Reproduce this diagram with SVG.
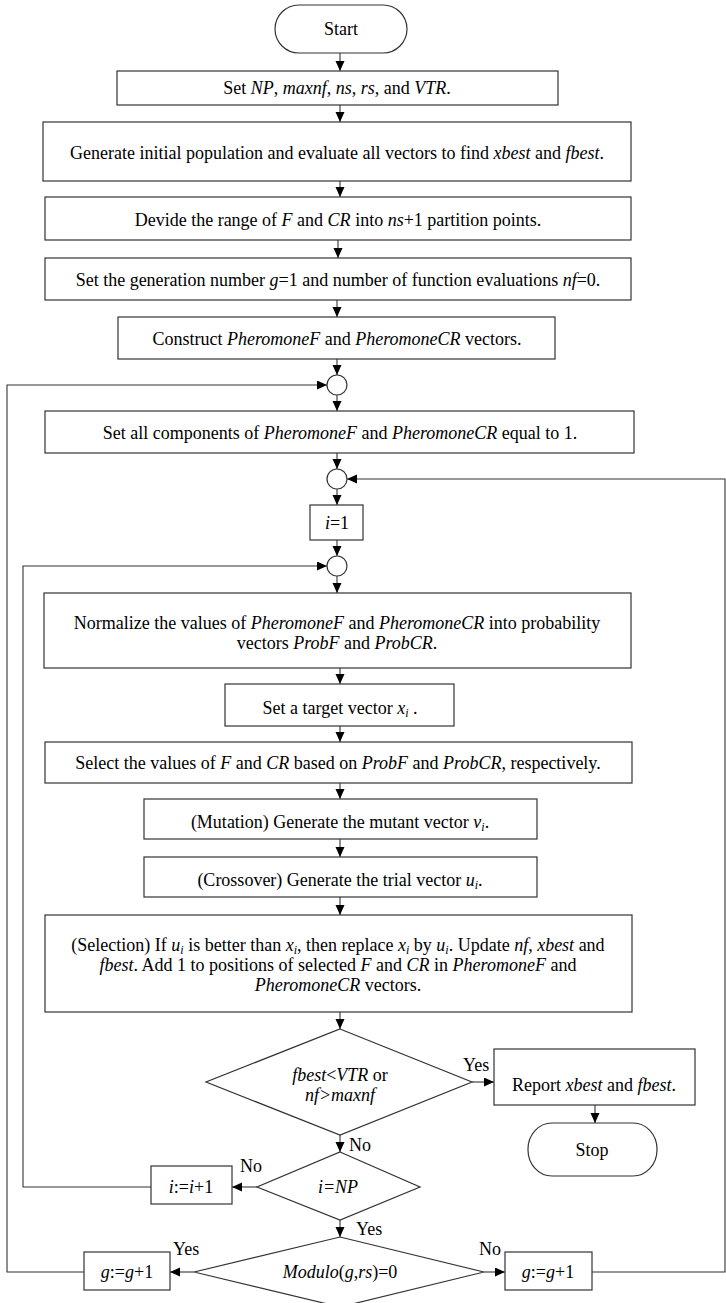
<svg xmlns="http://www.w3.org/2000/svg" width="726" height="1303" viewBox="0 0 726 1303">
<defs>
<marker id="ah" markerUnits="userSpaceOnUse" markerWidth="10" markerHeight="10" refX="10" refY="4.5" orient="auto">
<path d="M0,0 L10,4.5 L0,9 Z" fill="#000"/>
</marker>
<style>
.box{fill:#fff;stroke:#333;stroke-width:1.2}
.t{font-family:"Liberation Serif","Times New Roman",serif;font-size:18px;fill:#000;text-anchor:middle}
.l{font-family:"Liberation Serif","Times New Roman",serif;font-size:18px;fill:#000}
.i{font-style:italic}
.s{font-size:12px;font-style:italic}
.a{fill:none;stroke:#333;stroke-width:1.1;marker-end:url(#ah)}
</style>
</defs>
<rect width="726" height="1303" fill="#fff"/>
<g id="connectors">
<line class="a" x1="340" y1="53" x2="340" y2="71"/>
<line class="a" x1="340" y1="105" x2="340" y2="122"/>
<line class="a" x1="340" y1="181" x2="340" y2="197"/>
<line class="a" x1="338" y1="240" x2="338" y2="258"/>
<line class="a" x1="337" y1="300" x2="337" y2="317"/>
<line class="a" x1="337" y1="359" x2="337" y2="375"/>
<line class="a" x1="337" y1="395" x2="337" y2="411"/>
<line class="a" x1="337" y1="453" x2="337" y2="469"/>
<line class="a" x1="337" y1="489" x2="337" y2="505"/>
<line class="a" x1="337" y1="540" x2="337" y2="556"/>
<line class="a" x1="337" y1="576" x2="337" y2="593"/>
<line class="a" x1="340" y1="668" x2="340" y2="684"/>
<line class="a" x1="340" y1="726" x2="340" y2="742"/>
<line class="a" x1="340" y1="783" x2="340" y2="799"/>
<line class="a" x1="340" y1="839" x2="340" y2="857"/>
<line class="a" x1="340" y1="897" x2="340" y2="915"/>
<line class="a" x1="340" y1="1012" x2="340" y2="1029"/>
<line class="a" x1="472" y1="1082" x2="494" y2="1082"/>
<line class="a" x1="595" y1="1105" x2="595" y2="1123"/>
<line class="a" x1="340" y1="1135" x2="340" y2="1152"/>
<line class="a" x1="257" y1="1187" x2="232" y2="1187"/>
<polyline class="a" points="151,1187 23,1187 23,566 327,566"/>
<line class="a" x1="340" y1="1220" x2="340" y2="1237"/>
<line class="a" x1="194" y1="1272" x2="170" y2="1272"/>
<polyline class="a" points="84,1272 7,1272 7,385 327,385"/>
<line class="a" x1="484" y1="1272" x2="505" y2="1272"/>
<polyline class="a" points="592,1272 725,1272 725,479 347,479"/>
<text class="l" x="463" y="1071">Yes</text>
<text class="l" x="349" y="1151">No</text>
<text class="l" x="240" y="1172">No</text>
<text class="l" x="356" y="1235">Yes</text>
<text class="l" x="173" y="1255">Yes</text>
<text class="l" x="479" y="1255">No</text>
</g>
<g id="start">
<rect class="box" x="275" y="5" width="132" height="48" rx="24" ry="24"/>
<text class="t" x="341" y="35">Start</text>
</g>
<g id="setnp">
<rect class="box" x="117" y="71" width="441" height="34"/>
<text class="t" x="337" y="94">Set <tspan class="i">NP</tspan>, <tspan class="i">maxnf</tspan>, <tspan class="i">ns</tspan>, <tspan class="i">rs</tspan>, and <tspan class="i">VTR</tspan>.</text>
</g>
<g id="generate">
<rect class="box" x="43" y="122" width="588" height="59"/>
<text class="t" x="337" y="159">Generate initial population and evaluate all vectors to find <tspan class="i">xbest</tspan> and <tspan class="i">fbest</tspan>.</text>
</g>
<g id="devide">
<rect class="box" x="45" y="197" width="586" height="43"/>
<text class="t" x="338" y="226">Devide the range of  <tspan class="i">F</tspan> and <tspan class="i">CR</tspan> into <tspan class="i">ns</tspan>+1 partition points.</text>
</g>
<g id="setgen">
<rect class="box" x="45" y="258" width="586" height="42"/>
<text class="t" x="338" y="286">Set the generation number <tspan class="i">g</tspan>=1 and number of function evaluations <tspan class="i">nf</tspan>=0.</text>
</g>
<g id="construct">
<rect class="box" x="118" y="317" width="437" height="42"/>
<text class="t" x="337" y="345">Construct <tspan class="i">PheromoneF</tspan> and <tspan class="i">PheromoneCR</tspan> vectors.</text>
</g>
<g id="junction1">
<circle class="box" cx="337" cy="385" r="10"/>
</g>
<g id="setall">
<rect class="box" x="45" y="411" width="589" height="42"/>
<text class="t" x="340" y="439">Set all components of <tspan class="i">PheromoneF</tspan> and <tspan class="i">PheromoneCR</tspan> equal to 1.</text>
</g>
<g id="junction2">
<circle class="box" cx="337" cy="479" r="10"/>
</g>
<g id="i1">
<rect class="box" x="310" y="505" width="53" height="35"/>
<text class="t" x="337" y="529"><tspan class="i">i</tspan>=1</text>
</g>
<g id="junction3">
<circle class="box" cx="337" cy="566" r="10"/>
</g>
<g id="normalize">
<rect class="box" x="44" y="593" width="587" height="75"/>
<text class="t" x="337" y="629">Normalize the values of <tspan class="i">PheromoneF</tspan> and <tspan class="i">PheromoneCR</tspan> into probability</text>
<text class="t" x="337" y="649">vectors <tspan class="i">ProbF</tspan> and <tspan class="i">ProbCR</tspan>.</text>
</g>
<g id="target">
<rect class="box" x="225" y="684" width="229" height="42"/>
<text class="t" x="340" y="714">Set a target vector <tspan class="i">x</tspan><tspan class="s" dy="3">i</tspan><tspan dy="-3"> .</tspan></text>
</g>
<g id="select">
<rect class="box" x="45" y="742" width="587" height="41"/>
<text class="t" x="338" y="769">Select the values of <tspan class="i">F</tspan> and <tspan class="i">CR</tspan> based on <tspan class="i">ProbF</tspan> and <tspan class="i">ProbCR</tspan>, respectively.</text>
</g>
<g id="mutation">
<rect class="box" x="144" y="799" width="393" height="40"/>
<text class="t" x="340" y="828">(Mutation)  Generate the mutant vector <tspan class="i">v</tspan><tspan class="s" dy="3">i</tspan><tspan dy="-3">.</tspan></text>
</g>
<g id="crossover">
<rect class="box" x="144" y="857" width="393" height="40"/>
<text class="t" x="340" y="886">(Crossover) Generate the trial vector <tspan class="i">u</tspan><tspan class="s" dy="3">i</tspan><tspan dy="-3">.</tspan></text>
</g>
<g id="selection">
<rect class="box" x="45" y="915" width="587" height="97"/>
<text class="t" x="338" y="951">(Selection) If <tspan class="i">u</tspan><tspan class="s" dy="3">i</tspan><tspan dy="-3"> is better than </tspan><tspan class="i">x</tspan><tspan class="s" dy="3">i</tspan><tspan dy="-3">, then replace </tspan><tspan class="i">x</tspan><tspan class="s" dy="3">i</tspan><tspan dy="-3"> by </tspan><tspan class="i">u</tspan><tspan class="s" dy="3">i</tspan><tspan dy="-3">. Update </tspan><tspan class="i">nf</tspan>, <tspan class="i">xbest</tspan> and</text>
<text class="t" x="338" y="971"><tspan class="i">fbest</tspan>. Add 1 to positions of selected <tspan class="i">F</tspan> and <tspan class="i">CR</tspan> in <tspan class="i">PheromoneF</tspan> and</text>
<text class="t" x="338" y="991"><tspan class="i">PheromoneCR</tspan> vectors.</text>
</g>
<g id="decision1">
<polygon class="box" points="340,1029 472,1082 340,1135 206,1082"/>
<text class="t" x="340" y="1081"><tspan class="i">fbest</tspan>&lt;<tspan class="i">VTR</tspan> or</text>
<text class="t i" x="340" y="1101">nf&gt;maxnf</text>
</g>
<g id="report">
<rect class="box" x="494" y="1049" width="201" height="56"/>
<text class="t" x="594" y="1091">Report <tspan class="i">xbest</tspan> and <tspan class="i">fbest</tspan>.</text>
</g>
<g id="stop">
<rect class="box" x="528" y="1123" width="129" height="53" rx="24" ry="26"/>
<text class="t" x="592" y="1156">Stop</text>
</g>
<g id="decision2">
<polygon class="box" points="340,1152 420,1187 340,1220 257,1187"/>
<text class="t i" x="338" y="1193">i=NP</text>
</g>
<g id="incI">
<rect class="box" x="151" y="1166" width="81" height="38"/>
<text class="t" x="191" y="1193"><tspan class="i">i</tspan>:=<tspan class="i">i</tspan>+1</text>
</g>
<g id="decision3">
<polygon class="box" points="340,1237 484,1272 340,1307 194,1272"/>
<text class="t" x="340" y="1278"><tspan class="i">Modulo</tspan>(<tspan class="i">g</tspan>,<tspan class="i">rs</tspan>)=0</text>
</g>
<g id="incGleft">
<rect class="box" x="84" y="1252" width="86" height="38"/>
<text class="t" x="127" y="1278"><tspan class="i">g</tspan>:=<tspan class="i">g</tspan>+1</text>
</g>
<g id="incGright">
<rect class="box" x="505" y="1252" width="87" height="38"/>
<text class="t" x="548" y="1278"><tspan class="i">g</tspan>:=<tspan class="i">g</tspan>+1</text>
</g>
</svg>
